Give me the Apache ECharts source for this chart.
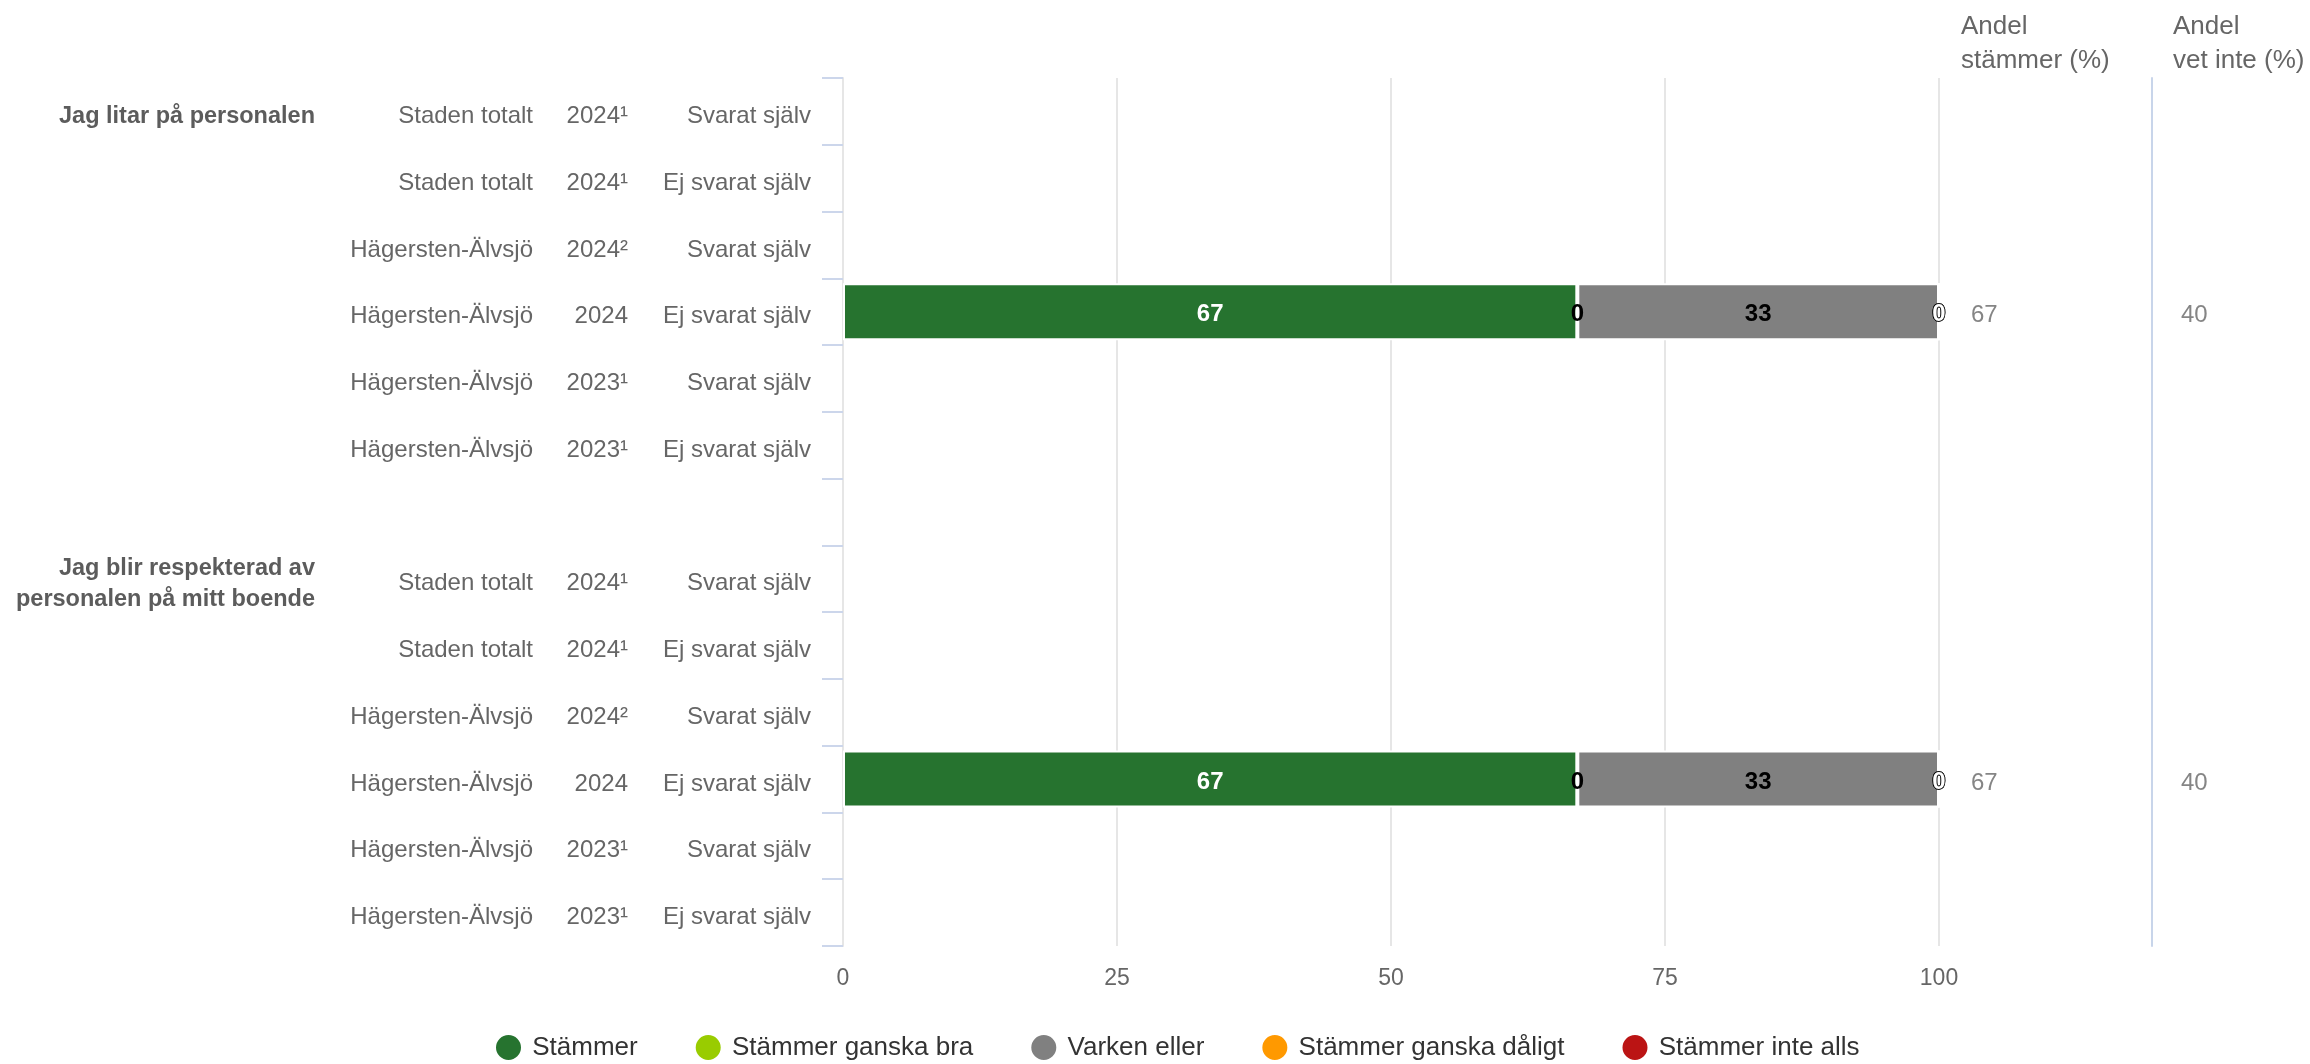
<!DOCTYPE html>
<html><head><meta charset="utf-8">
<script src="https://cdn.jsdelivr.net/npm/echarts@6/dist/echarts.min.js"></script>
<style>html,body{margin:0;padding:0;background:#fff}#c{width:2310px;height:1064px}</style>
</head><body><div id="c"></div>
<script>
// ---- data ----
const questions = ['Jag litar på personalen', 'Jag blir respekterad av\npersonalen på mitt boende'];
const areas = ['Staden totalt', 'Staden totalt', 'Hägersten-Älvsjö', 'Hägersten-Älvsjö', 'Hägersten-Älvsjö', 'Hägersten-Älvsjö'];
const years = ['2024¹', '2024¹', '2024²', '2024', '2023¹', '2023¹'];
const respondents = ['Svarat själv', 'Ej svarat själv', 'Svarat själv', 'Ej svarat själv', 'Svarat själv', 'Ej svarat själv'];
const seriesNames = ['Stämmer', 'Stämmer ganska bra', 'Varken eller', 'Stämmer ganska dåligt', 'Stämmer inte alls'];
const seriesColors = ['#26732F', '#99CC00', '#808080', '#FF9900', '#BB1414'];
// 13 rows: 6 rows question 1, blank row, 6 rows question 2
const stammer      = [null, null, null, 67, null, null, null, null, null, null, 67, null, null];
const ganskaBra    = [null, null, null, 0,  null, null, null, null, null, null, 0,  null, null];
const varkenEller  = [null, null, null, 33, null, null, null, null, null, null, 33, null, null];
const ganskaDaligt = [null, null, null, 0,  null, null, null, null, null, null, 0,  null, null];
const inteAlls     = [null, null, null, 0,  null, null, null, null, null, null, 0,  null, null];
const andelStammer = [null, null, null, 67, null, null, null, null, null, null, 67, null, null];
const andelVetInte = [null, null, null, 40, null, null, null, null, null, null, 40, null, null];
const colHeaders = ['Andel\nstämmer (%)', 'Andel\nvet inte (%)'];

// ---- build rows ----
const rowInfo = [];
questions.forEach((q, qi) => {
  if (qi > 0) rowInfo.push(null);
  areas.forEach((a, i) => rowInfo.push({ q: i === 0 ? q : '', area: a, year: years[i], resp: respondents[i] }));
});
const cats = rowInfo.map((r, i) => 'row' + i);

const FONT = '"Liberation Sans", Arial, sans-serif';
const seriesData = [stammer, ganskaBra, varkenEller, ganskaDaligt, inteAlls];
const labelStyles = [
  { color: '#fff' },
  { color: '#000' },
  { color: '#000' },
  { color: '#fff', textBorderColor: '#000', textBorderWidth: 1.5 },
  { color: '#fff', textBorderColor: '#000', textBorderWidth: 1.5 }
];

const barSeries = seriesNames.map((name, k) => ({
  name, type: 'bar', stack: 'total', xAxisIndex: 0, yAxisIndex: 0,
  barWidth: 57,
  itemStyle: { color: seriesColors[k], borderColor: '#fff', borderWidth: 2 },
  label: Object.assign({ show: true, position: 'inside', offset: [0, 3], fontSize: 24, fontWeight: 'bold', fontFamily: FONT, formatter: '{c}' }, labelStyles[k]),
  data: seriesData[k]
}));

function valueCol(arr, xi, yi, dist) {
  return {
    type: 'scatter', xAxisIndex: xi, yAxisIndex: yi, symbolSize: 0, silent: true,
    itemStyle: { color: 'transparent' },
    label: { show: true, position: 'right', distance: dist, offset: [0, 4], fontSize: 24, color: '#666', fontFamily: FONT, formatter: p => p.value[2] },
    data: arr.map((v, i) => v == null ? null : [0, i, v])
  };
}

const chart = echarts.init(document.getElementById('c'), null, { renderer: 'canvas' });
chart.setOption({
  animation: false,
  backgroundColor: '#fff',
  textStyle: { fontFamily: FONT },
  title: [
    { text: colHeaders[0], left: 1961, top: 10, padding: 0, textStyle: { fontSize: 26, fontWeight: 'normal', color: '#666', lineHeight: 34, fontFamily: FONT } },
    { text: colHeaders[1], left: 2173, top: 10, padding: 0, textStyle: { fontSize: 26, fontWeight: 'normal', color: '#666', lineHeight: 34, fontFamily: FONT } }
  ],
  legend: {
    data: seriesNames, icon: 'circle', left: 494, top: 1033,
    itemWidth: 37.5, itemHeight: 27, itemGap: 56, padding: 0,
    textStyle: { fontSize: 26, color: '#333', fontFamily: FONT }
  },
  grid: [
    { left: 843, top: 78, width: 1096, height: 868 },
    { left: 1940, top: 78, width: 212, height: 868 },
    { left: 2152, top: 78, width: 150, height: 868 }
  ],
  xAxis: [
    { type: 'value', gridIndex: 0, min: 0, max: 100, interval: 25,
      axisLine: { show: false }, axisTick: { show: false },
      axisLabel: { fontSize: 23, color: '#666', margin: 21, fontFamily: FONT },
      splitLine: { lineStyle: { color: '#e6e6e6', width: 2 } } },
    { type: 'value', gridIndex: 1, min: 0, max: 1, show: false },
    { type: 'value', gridIndex: 2, min: 0, max: 1, show: false }
  ],
  yAxis: [
    { type: 'category', gridIndex: 0, data: cats, inverse: true, position: 'left',
      axisLine: { show: true, lineStyle: { color: '#e6e6e6', width: 2 } },
      axisTick: { show: true, length: 21, lineStyle: { color: '#ccd6eb', width: 2 } },
      axisLabel: { interval: 0, margin: 32, padding: [10, 0, 0, 0], fontSize: 24, color: '#666', fontFamily: FONT,
        formatter: (v, i) => { const r = rowInfo[i]; return r ? `{a|${r.area}}{b|${r.year}}{c|${r.resp}}` : ''; },
        rich: {
          a: { width: 218, align: 'right', fontSize: 24, color: '#666', fontFamily: FONT },
          b: { width: 95, align: 'right', fontSize: 24, color: '#666', fontFamily: FONT },
          c: { width: 183, align: 'right', fontSize: 24, color: '#666', fontFamily: FONT }
        } } },
    { type: 'category', gridIndex: 0, data: cats, inverse: true, position: 'left',
      axisLine: { show: false }, axisTick: { show: false },
      axisLabel: { interval: 0, margin: 528, padding: [10, 0, 0, 0], fontSize: 23.5, fontWeight: 'bold', color: '#5c5c5c', fontFamily: FONT, align: 'right',
        formatter: (v, i) => { const r = rowInfo[i]; return r && r.q ? r.q.split('\n').map(s => `{g|${s}}`).join('\n') : ''; },
        rich: { g: { fontSize: 23.5, fontWeight: 'bold', color: '#5c5c5c', lineHeight: 31, align: 'right', fontFamily: FONT } } } },
    { type: 'category', gridIndex: 1, data: cats, inverse: true, show: false },
    { type: 'category', gridIndex: 2, data: cats, inverse: true,
      axisLine: { show: true, lineStyle: { color: '#c8d5ea', width: 2 } },
      axisTick: { show: false }, axisLabel: { show: false } }
  ],
  series: barSeries.concat([
    valueCol(andelStammer, 1, 2, 31),
    valueCol(andelVetInte, 2, 3, 29)
  ])
});
</script></body></html>
